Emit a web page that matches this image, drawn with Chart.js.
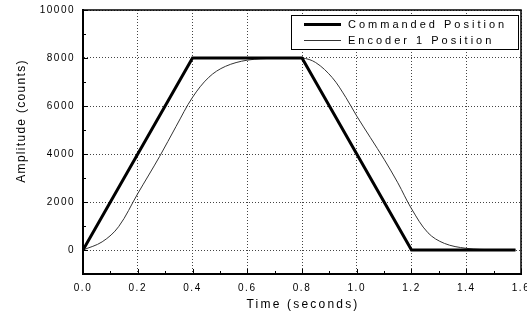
<!DOCTYPE html>
<html>
<head>
<meta charset="utf-8">
<script src="https://cdn.jsdelivr.net/npm/chart.js@4.4.1/dist/chart.umd.min.js"></script>
<style>
  html, body { margin: 0; padding: 0; background: #fff; }
  canvas { display: block; }
</style>
</head>
<body>
<canvas id="posChart" width="527" height="316"></canvas>
<script>
// values
const cmdTime = [0, 0.4, 0.8, 1.2, 1.58];
const cmdPos = [0, 8000, 8000, 0, 0];

const encTime = [0, 0.07, 0.13, 0.2, 0.28, 0.34, 0.4, 0.46, 0.52, 0.6, 0.7, 0.8,
                 0.85, 0.91, 0.96, 1.0, 1.05, 1.1, 1.15, 1.2, 1.26, 1.32, 1.4, 1.5, 1.58];
const encPos = [0, 340, 970, 2350, 3900, 5150, 6360, 7200, 7650, 7910, 7990, 8000,
                7810, 7190, 6360, 5580, 4680, 3780, 2800, 1720, 720, 276, 70, 10, 0];

const seriesLabels = ['Commanded Position', 'Encoder 1 Position'];
const xTicks = [0, 0.2, 0.4, 0.6, 0.8, 1.0, 1.2, 1.4, 1.6];
const yTicks = [0, 2000, 4000, 6000, 8000, 10000];
const xTitle = 'Time (seconds)';
const yTitle = 'Amplitude (counts)';

const toPoints = (xs, ys) => xs.map((x, i) => ({x: x, y: ys[i]}));

const FONT = 'Liberation Sans, Arial, sans-serif';

// frame, inner tick marks, axis titles and the legend box
const decorPlugin = {
    id: 'decor',
    beforeDraw(chart) {
        chart.ctx.letterSpacing = '1.5px';
    },
    afterDraw(chart) {
        const ctx = chart.ctx;
        const a = chart.chartArea;
        const xs = chart.scales.x;
        const ys = chart.scales.y;
        ctx.save();
        ctx.letterSpacing = '0px';
        ctx.strokeStyle = '#000';

        // top and right frame
        ctx.lineWidth = 1.5;
        ctx.beginPath();
        ctx.moveTo(a.left, a.top);
        ctx.lineTo(a.right, a.top);
        ctx.lineTo(a.right, a.bottom);
        ctx.stroke();

        // inner ticks on x
        ctx.lineWidth = 1;
        for (let i = 0; i <= 16; i++) {
            const px = Math.round(xs.getPixelForValue(i / 10)) + 0.5;
            const len = i % 2 === 0 ? 5 : 3;
            ctx.beginPath();
            ctx.moveTo(px, a.bottom);
            ctx.lineTo(px, a.bottom - len);
            ctx.stroke();
        }
        // inner ticks on y
        for (let v = -1000; v <= 10000; v += 1000) {
            const py = Math.round(ys.getPixelForValue(v)) + 0.5;
            const len = v % 2000 === 0 ? 5 : 3;
            ctx.beginPath();
            ctx.moveTo(a.left, py);
            ctx.lineTo(a.left + len, py);
            ctx.stroke();
        }

        // axis titles
        ctx.fillStyle = '#000';
        ctx.font = '12px ' + FONT;
        ctx.textAlign = 'center';
        ctx.textBaseline = 'middle';
        ctx.letterSpacing = '2.2px';
        ctx.fillText(xTitle, (a.left + a.right) / 2 + 1, 305);
        ctx.save();
        ctx.translate(22, 121);
        ctx.rotate(-Math.PI / 2);
        ctx.letterSpacing = '1.3px';
        ctx.fillText(yTitle, 0, 0);
        ctx.restore();

        // legend
        const bw = 227, bh = 34;
        const bx = a.right - 3 - bw, by = a.top + 5;
        ctx.fillStyle = '#fff';
        ctx.fillRect(bx, by, bw, bh);
        ctx.lineWidth = 1;
        ctx.strokeStyle = '#000';
        ctx.strokeRect(bx + 0.5, by + 0.5, bw, bh);
        ctx.font = '11px ' + FONT;
        ctx.letterSpacing = '3px';
        ctx.textBaseline = 'middle';
        ctx.textAlign = 'left';
        chart.data.datasets.forEach((ds, i) => {
            const ly = by + 9.5 + i * 16;
            ctx.strokeStyle = ds.borderColor;
            ctx.lineWidth = ds.borderWidth;
            ctx.beginPath();
            ctx.moveTo(bx + 13, ly);
            ctx.lineTo(bx + 50, ly);
            ctx.stroke();
            ctx.fillStyle = '#000';
            ctx.fillText(ds.label, bx + 57, ly + 0.5);
        });
        ctx.restore();
    }
};

const ctx = document.getElementById('posChart').getContext('2d');
new Chart(ctx, {
    type: 'line',
    data: {
        datasets: [{
            label: seriesLabels[0],
            data: toPoints(cmdTime, cmdPos),
            borderColor: '#000',
            borderWidth: 3,
            pointRadius: 0,
            tension: 0,
            fill: false
        }, {
            label: seriesLabels[1],
            data: toPoints(encTime, encPos),
            borderColor: '#333',
            borderWidth: 1,
            pointRadius: 0,
            tension: 0.35,
            fill: false
        }]
    },
    options: {
        responsive: false,
        animation: false,
        devicePixelRatio: 1,
        layout: { padding: { top: 10, right: 6, left: 0, bottom: 0 } },
        plugins: {
            legend: { display: false },
            tooltip: { enabled: false }
        },
        scales: {
            x: {
                type: 'linear',
                min: 0,
                max: 1.6,
                afterBuildTicks: s => { s.ticks = xTicks.map(v => ({value: v})); },
                afterFit: s => { s.height = 42; s.paddingLeft = 0; s.paddingRight = 0; },
                grid: { color: '#444', drawTicks: false },
                border: { color: '#000', width: 2, dash: [1, 2] },
                ticks: {
                    color: '#000',
                    padding: 8,
                    font: { family: FONT, size: 10 },
                    callback: v => v.toFixed(1)
                }
            },
            y: {
                min: -1000,
                max: 10000,
                afterBuildTicks: s => { s.ticks = yTicks.map(v => ({value: v})); },
                afterFit: s => { s.width = 83; s.paddingTop = 0; s.paddingBottom = 0; },
                grid: { color: '#444', drawTicks: false },
                border: { color: '#000', width: 2, dash: [1, 2] },
                ticks: {
                    color: '#000',
                    padding: 8,
                    font: { family: FONT, size: 10 },
                    callback: v => String(v)
                }
            }
        }
    },
    plugins: [decorPlugin]
});
</script>
</body>
</html>
